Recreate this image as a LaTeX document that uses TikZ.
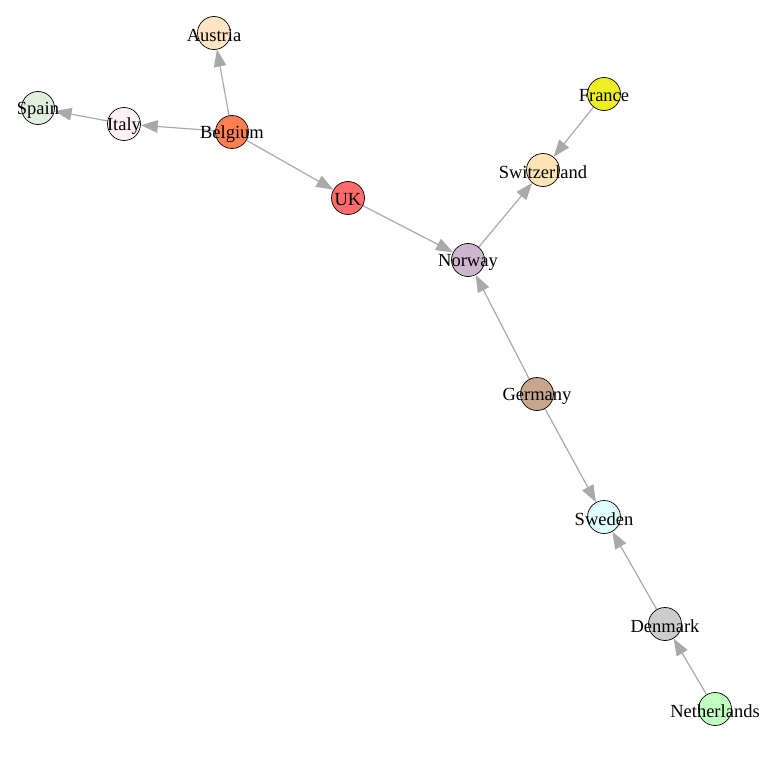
\documentclass[tikz,border=0pt]{standalone}
\usepackage{fontspec}
\setmainfont{Liberation Serif}
\usetikzlibrary{arrows.meta}
\pgfdeclarelayer{bg}
\pgfsetlayers{bg,main}
\definecolor{cAustria}{HTML}{FFE4C4}
\definecolor{cSpain}{HTML}{E0EEE0}
\definecolor{cItaly}{HTML}{FFF0F5}
\definecolor{cBelgium}{HTML}{FF7F50}
\definecolor{cUK}{HTML}{FF6A6A}
\definecolor{cFrance}{HTML}{EEEE22}
\definecolor{cSwitzerland}{HTML}{FFE4B5}
\definecolor{cNorway}{HTML}{CDB5CD}
\definecolor{cGermany}{HTML}{C8A68C}
\definecolor{cSweden}{HTML}{E0FFFF}
\definecolor{cDenmark}{HTML}{CCCCCC}
\definecolor{cNetherlands}{HTML}{C1FFC1}
\definecolor{edgegray}{HTML}{A9A9A9}
\tikzset{
  vert/.style={circle,draw=black,line width=0.7pt,minimum size=33pt,inner sep=0pt},
  vlabel/.style={font=\fontsize{18.5}{20}\selectfont,inner sep=0pt,yshift=-2pt},
  edge/.style={draw=edgegray,line width=1.2pt,-{Triangle[length=17pt,width=12.5pt]}}
}
\begin{document}
\begin{tikzpicture}[x=1pt,y=-1pt]
\useasboundingbox (0,0) rectangle (777,760);
\node[vert,fill=cAustria] (Austria) at (214,33) {};
\node[vert,fill=cSpain] (Spain) at (38,108) {};
\node[vert,fill=cItaly] (Italy) at (124,124) {};
\node[vert,fill=cBelgium] (Belgium) at (232,132) {};
\node[vert,fill=cUK] (UK) at (348,198) {};
\node[vert,fill=cFrance] (France) at (604,94) {};
\node[vert,fill=cSwitzerland] (Switzerland) at (543,170) {};
\node[vert,fill=cNorway] (Norway) at (468,260) {};
\node[vert,fill=cGermany] (Germany) at (537,394) {};
\node[vert,fill=cSweden] (Sweden) at (604,517) {};
\node[vert,fill=cDenmark] (Denmark) at (665,624) {};
\node[vert,fill=cNetherlands] (Netherlands) at (715,709) {};
\begin{pgfonlayer}{bg}
\draw[edge] (Belgium) -- (Austria);
\draw[edge] (Belgium) -- (Italy);
\draw[edge] (Italy) -- (Spain);
\draw[edge] (Belgium) -- (UK);
\draw[edge] (UK) -- (Norway);
\draw[edge] (Norway) -- (Switzerland);
\draw[edge] (France) -- (Switzerland);
\draw[edge] (Germany) -- (Norway);
\draw[edge] (Germany) -- (Sweden);
\draw[edge] (Denmark) -- (Sweden);
\draw[edge] (Netherlands) -- (Denmark);
\end{pgfonlayer}
\foreach \n in {Austria,Spain,Italy,Belgium,UK,France,Switzerland,Norway,Germany,Sweden,Denmark,Netherlands}
  \node[vlabel] (l\n) at (\n) {\n};
\end{tikzpicture}
\end{document}
